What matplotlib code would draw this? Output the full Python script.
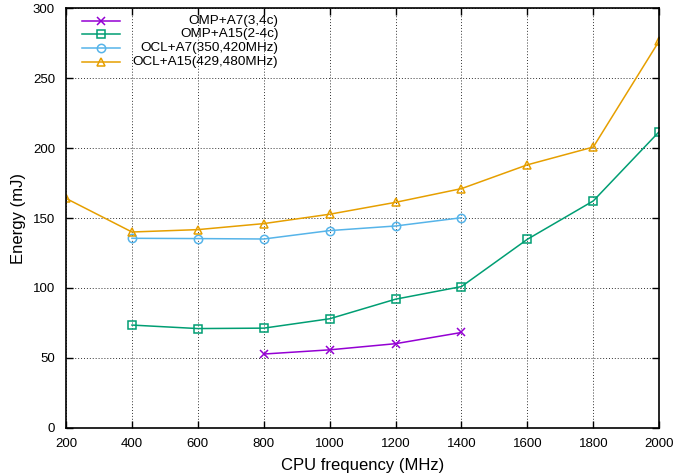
import matplotlib.pyplot as plt

# data
freq_omp_a7 = [800, 1000, 1200, 1400]
omp_a7 = [52.8, 55.8, 60.2, 68.2]

freq_omp_a15 = [400, 600, 800, 1000, 1200, 1400, 1600, 1800, 2000]
omp_a15 = [73.5, 71.0, 71.3, 78.0, 92.0, 101.0, 134.8, 162.2, 211.7]

freq_ocl_a7 = [400, 600, 800, 1000, 1200, 1400]
ocl_a7 = [135.5, 135.3, 135.0, 141.0, 144.3, 150.2]

freq_ocl_a15 = [200, 400, 600, 800, 1000, 1200, 1400, 1600, 1800, 2000]
ocl_a15 = [164.0, 140.0, 141.7, 146.0, 152.7, 161.2, 171.0, 188.0, 200.7, 276.5]

labels = ["OMP+A7(3,4c)", "OMP+A15(2-4c)", "OCL+A7(350,420MHz)", "OCL+A15(429,480MHz)"]
colors = ["#9400d3", "#009e73", "#56b4e9", "#e69f00"]
markers = ["x", "s", "o", "^"]

plt.rcParams['font.family'] = ['Liberation Sans', 'DejaVu Sans']

fig = plt.figure(figsize=(6.74, 4.76), dpi=100)
ax = fig.add_axes([0.098, 0.101, 0.88, 0.882])

series = [(freq_omp_a7, omp_a7), (freq_omp_a15, omp_a15),
          (freq_ocl_a7, ocl_a7), (freq_ocl_a15, ocl_a15)]
for (xs, ys), c, m in zip(series, colors, markers):
    ax.plot(xs, ys, color=c, marker=m, markersize=6, linewidth=1.1,
            markerfacecolor='none', markeredgecolor=c, markeredgewidth=1.1)

ax.set_xlim(200, 2000)
ax.set_ylim(0, 300)
ax.set_xticks(range(200, 2001, 200))
ax.set_yticks(range(0, 301, 50))
ax.tick_params(direction='in', top=True, right=True, labelsize=9.5, length=5, width=1)
ax.tick_params(axis='x', pad=7)
ax.tick_params(axis='y', pad=8)
ax.grid(True, color='black', linestyle=(0, (1, 2)), linewidth=0.7, alpha=0.8)
for s in ax.spines.values():
    s.set_linewidth(1.2)

ax.set_xlabel("CPU frequency (MHz)", fontsize=12, labelpad=6)
ax.set_ylabel("Energy (mJ)", fontsize=12, labelpad=5)

# gnuplot-style key: sample first, label right-aligned
for i, (lab, c, m) in enumerate(zip(labels, colors, markers)):
    yk = 0.97 - i * 0.0325
    ax.plot([0.027, 0.091], [yk, yk], color=c, linewidth=1.1, transform=ax.transAxes, clip_on=False)
    ax.plot([0.059], [yk], color=c, marker=m, markersize=6, markerfacecolor='none',
            markeredgewidth=1.1, transform=ax.transAxes, clip_on=False)
    ax.text(0.358, yk, lab, ha='right', va='center', fontsize=9.7, transform=ax.transAxes)

fig.savefig("out.png", dpi=100)
